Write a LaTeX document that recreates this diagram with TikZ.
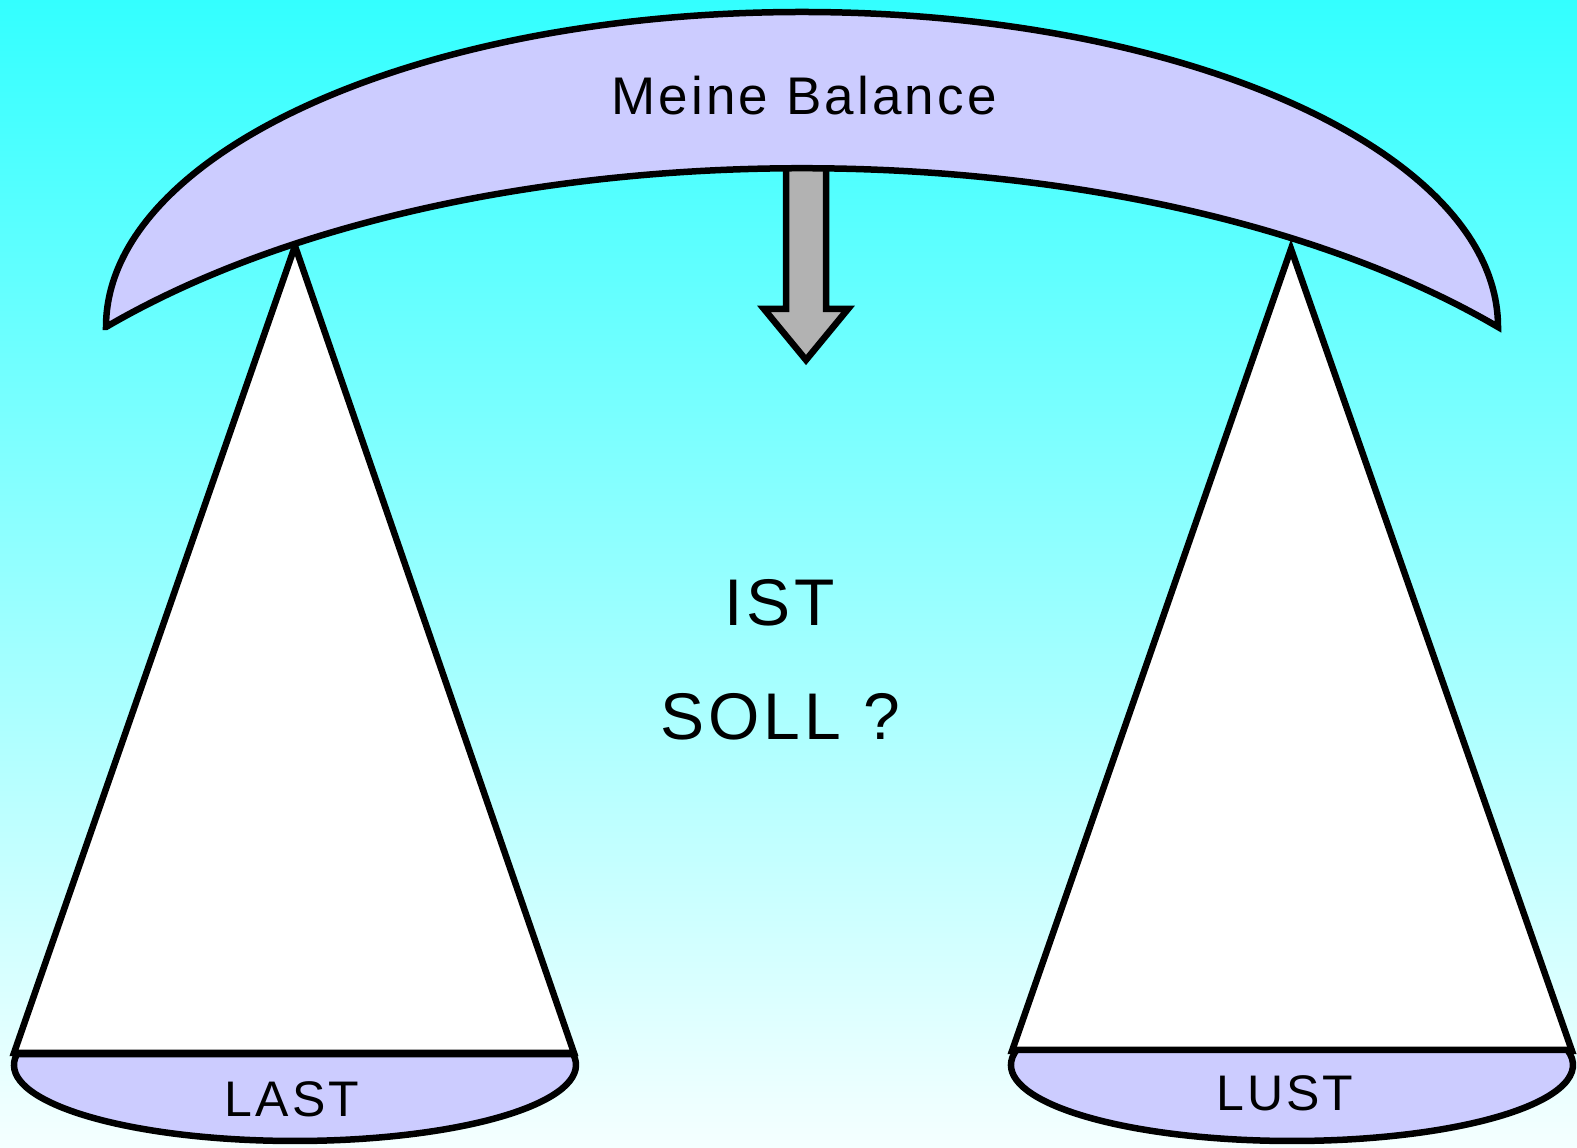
\documentclass[tikz,border=0pt]{standalone}
\usepackage{fontspec}
\setmainfont{Liberation Sans}[LetterSpace=6]
\usetikzlibrary{positioning}
\definecolor{cbeam}{HTML}{CCCCFF}
\definecolor{carrow}{HTML}{B2B2B2}
\definecolor{ctop}{HTML}{33FFFF}
\definecolor{cbottom}{HTML}{F5FFFF}
\tikzset{
  every picture/.style={line width=6.5pt, line join=miter},
  part/.style={draw=black, fill=#1},
  part/.default=cbeam,
  lbl/.style={inner sep=0pt, text=black},
}

\begin{document}
\begin{tikzpicture}[x=1pt, y=1pt]
  % background
  \shade[top color=ctop, bottom color=cbottom] (0,0) rectangle (1577,1148);
  \useasboundingbox (0,0) rectangle (1577,1148);
  % stands
  \draw[part=white] (295,902) -- (14,95) -- (574,95) -- cycle;
  \draw[part=white] (1291,899) -- (1012,97) -- (1572,97) -- cycle;
  % arrow
  \draw[part=carrow] (786,985) -- (786,839) -- (764,839) -- (806,788)
    -- (848,839) -- (826,839) -- (826,985) -- cycle;
  % beam
  \draw[part] (106,821) arc[start angle=180, end angle=0, x radius=696, y radius=315]
    arc[start angle={acos(696/905)}, end angle={180-acos(696/905)}, x radius=905, y radius=440] -- cycle;
  % pans
  \draw[part] (295,83) ++(171.7:281 and 76)
    arc[start angle=171.7, end angle=368.3, x radius=281, y radius=76] -- cycle;
  \draw[part] (1292,83) ++(168.5:281 and 76)
    arc[start angle=168.5, end angle=371.5, x radius=281, y radius=76] -- cycle;
  % texts
  \node[lbl, font=\fontsize{53}{60}\selectfont] (title) at (804,1052) {Meine Balance};
  \node[lbl, font=\fontsize{66}{70}\selectfont] (ist) at (780,545) {IST};
  \node[lbl, font=\fontsize{66}{70}\selectfont] (soll) at (780,431) {SOLL ?};
  \node[lbl, font=\fontsize{50}{56}\selectfont] (last) at (292,49) {LAST};
  \node[lbl, font=\fontsize{50}{56}\selectfont] (lust) at (1285,55) {LUST};
\end{tikzpicture}
\end{document}
